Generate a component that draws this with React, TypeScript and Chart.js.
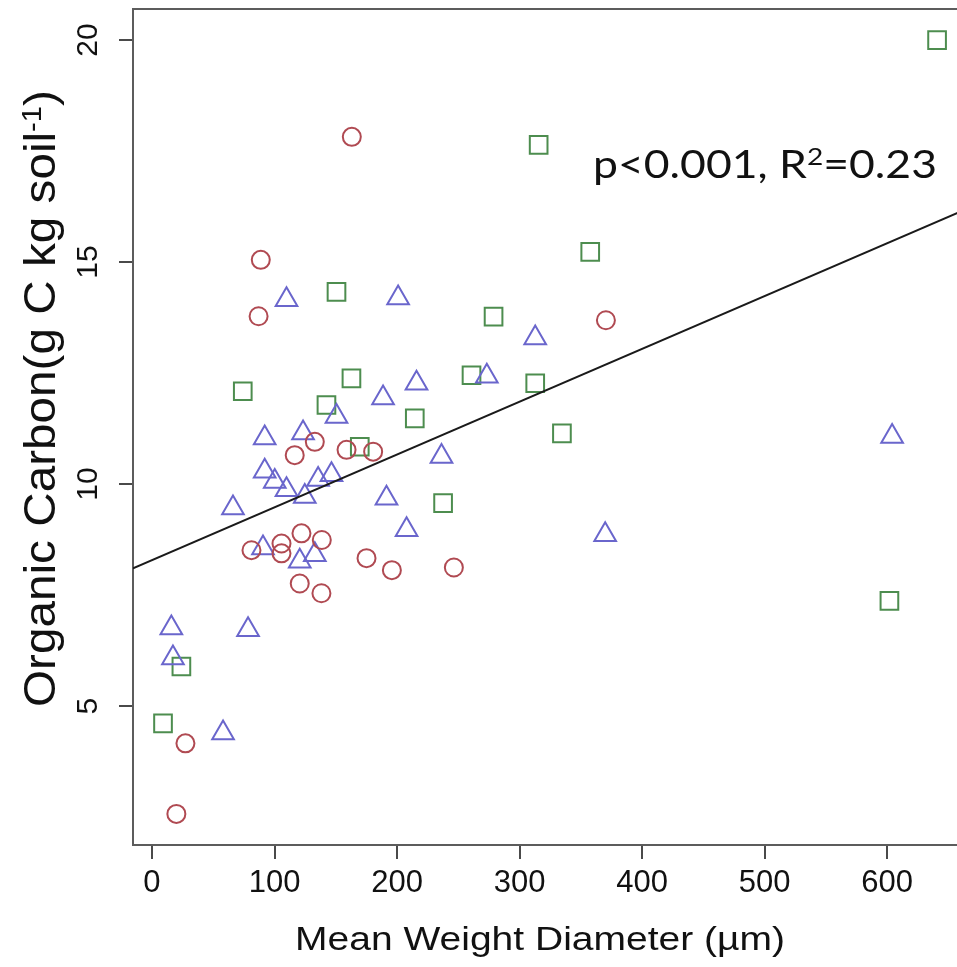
import React, { useEffect, useRef } from "react";
import { Chart, registerables } from "chart.js";

Chart.register(...registerables);

// ---- data ----
const circleX = [163.1, 88.8, 87.0, 370.5, 116.5, 132.9, 158.8, 180.5, 81.2, 105.7, 105.7, 122.0, 138.6, 120.6, 138.3, 175.1, 195.8, 246.4, 27.3, 19.9];
const circleY = [17.82, 15.05, 13.78, 13.69, 10.65, 10.95, 10.77, 10.73, 8.51, 8.66, 8.44, 8.89, 8.74, 7.76, 7.54, 8.33, 8.06, 8.12, 4.16, 2.57];

const triangleX = [109.8, 200.9, 215.9, 188.6, 150.6, 236.3, 92.0, 123.3, 92.0, 100.2, 109.8, 124.7, 135.6, 146.5, 66.1, 191.4, 207.8, 90.6, 120.6, 132.9, 15.8, 78.4, 17.1, 58.0, 312.8, 273.3, 604.1, 369.9];
const triangleY = [14.15, 14.19, 12.27, 11.94, 11.52, 10.62, 11.04, 11.15, 10.29, 10.06, 9.87, 9.72, 10.1, 10.21, 9.46, 9.68, 8.97, 8.56, 8.26, 8.41, 6.76, 6.72, 6.08, 4.39, 13.29, 12.43, 11.07, 8.86];

const squareX = [74.1, 142.4, 162.8, 150.6, 214.5, 169.6, 260.8, 278.8, 315.6, 357.7, 312.8, 334.6, 640.8, 237.6, 24.0, 9.0, 601.9];
const squareY = [12.09, 11.78, 12.38, 14.33, 11.48, 10.84, 12.45, 13.77, 17.64, 15.23, 12.27, 11.14, 20.0, 9.57, 5.89, 4.61, 7.37];

// regression line end points
const fitX = [-15.5, 684];
const fitY = [8.1, 16.42];

const xTicks = [0, 100, 200, 300, 400, 500, 600];
const yTicks = [5, 10, 15, 20];

const xTitle = "Mean Weight Diameter (\u00B5m)";
const yTitleMain = "Organic Carbon(g C kg soil";
const yTitleSup = "-1";
const yTitleTail = ")";
const statMain = "p<0.001, R";
const statSup = "2";
const statTail = "=0.23";

const pts = (xs: number[], ys: number[]) => xs.map((x, i) => ({ x, y: ys[i] }));

const SANS = '"Liberation Sans", Arial, Helvetica, sans-serif';

const decorPlugin = {
  id: "decor",
  beforeDatasetsDraw(chart: any) {
    const { ctx, chartArea: a } = chart;
    ctx.save();
    ctx.strokeStyle = "#5c5c5c";
    ctx.lineWidth = 2;
    ctx.strokeRect(a.left, a.top, a.right - a.left, a.bottom - a.top);
    ctx.restore();
  },
  afterDraw(chart: any) {
    const { ctx } = chart;
    // x axis title
    ctx.save();
    ctx.fillStyle = "#111";
    ctx.font = `33px ${SANS}`;
    ctx.textAlign = "center";
    ctx.textBaseline = "alphabetic";
    const wx = ctx.measureText(xTitle).width;
    ctx.translate(540, 950);
    ctx.scale(490 / wx, 1);
    ctx.fillText(xTitle, 0, 0);
    ctx.restore();

    // y axis title (rotated, with superscript)
    ctx.save();
    ctx.fillStyle = "#111";
    ctx.textBaseline = "alphabetic";
    ctx.textAlign = "left";
    const mainFont = `44px ${SANS}`;
    const supFont = `27px ${SANS}`;
    ctx.font = mainFont;
    const w1 = ctx.measureText(yTitleMain).width;
    const w3 = ctx.measureText(yTitleTail).width;
    ctx.font = supFont;
    const w2 = ctx.measureText(yTitleSup).width;
    const total = w1 + w2 + w3;
    const target = 617;
    ctx.translate(55, 398.5);
    ctx.rotate(-Math.PI / 2);
    ctx.scale(target / total, 1);
    let x0 = -total / 2;
    ctx.font = mainFont;
    ctx.fillText(yTitleMain, x0, 0);
    x0 += w1;
    ctx.font = supFont;
    ctx.fillText(yTitleSup, x0, -14);
    x0 += w2;
    ctx.font = mainFont;
    ctx.fillText(yTitleTail, x0, 0);
    ctx.restore();

    // statistics annotation
    ctx.save();
    ctx.fillStyle = "#111";
    ctx.textBaseline = "alphabetic";
    ctx.textAlign = "left";
    const aFont = `38px Lato, "Open Sans", sans-serif`;
    const sFont = `24px Lato, "Open Sans", sans-serif`;
    ctx.font = aFont;
    const a1 = ctx.measureText(statMain).width;
    const a3 = ctx.measureText(statTail).width;
    ctx.font = sFont;
    const a2 = ctx.measureText(statSup).width;
    const atot = a1 + a2 + a3;
    ctx.translate(593, 178);
    ctx.scale(344 / atot, 1);
    ctx.font = aFont;
    ctx.fillText(statMain, 0, 0);
    ctx.font = sFont;
    ctx.fillText(statSup, a1, -13);
    ctx.font = aFont;
    ctx.fillText(statTail, a1 + a2, 0);
    ctx.restore();
  },
};

export default function App() {
  const ref = useRef<HTMLCanvasElement | null>(null);

  useEffect(() => {
    if (!ref.current) return;
    const gridOpts = {
      drawOnChartArea: false,
      drawTicks: true,
      tickLength: 14,
      color: "#4a4a4a",
      lineWidth: 2,
    };
    const chart = new Chart(ref.current, {
      type: "scatter",
      data: {
        datasets: [
          {
            type: "line",
            data: pts(fitX, fitY),
            borderColor: "#1a1a1a",
            borderWidth: 2,
            pointRadius: 0,
            showLine: true,
            fill: false,
            order: 0,
          } as any,
          {
            data: pts(circleX, circleY),
            pointStyle: "circle",
            pointRadius: 9,
            pointBorderWidth: 2,
            pointBorderColor: "#b04a52",
            pointBackgroundColor: "rgba(0,0,0,0)",
            showLine: false,
          },
          {
            data: pts(triangleX, triangleY),
            pointStyle: "triangle",
            pointRadius: 12.5,
            pointBorderWidth: 2,
            pointBorderColor: "#6a66cc",
            pointBackgroundColor: "rgba(0,0,0,0)",
            showLine: false,
          },
          {
            data: pts(squareX, squareY),
            pointStyle: "rect",
            pointRadius: 12.5,
            pointBorderWidth: 2,
            pointBorderColor: "#4d8d4f",
            pointBackgroundColor: "rgba(0,0,0,0)",
            showLine: false,
          },
        ],
      },
      options: {
        animation: false,
        responsive: false,
        devicePixelRatio: 1,
        layout: { autoPadding: false, padding: { left: 0, right: 0, top: 9, bottom: 0 } },
        plugins: {
          legend: { display: false },
          tooltip: { enabled: false },
          title: { display: false },
        },
        scales: {
          x: {
            type: "linear",
            min: -15.5,
            max: 684,
            afterFit: (s: any) => {
              s.height = 122;
              s.paddingLeft = 0;
              s.paddingRight = 0;
            },
            afterBuildTicks: (s: any) => {
              s.ticks = xTicks.map((v) => ({ value: v }));
            },
            grid: gridOpts,
            border: { display: false },
            ticks: {
              font: { family: SANS, size: 31 },
              color: "#111",
              padding: 6,
              minRotation: 0,
              maxRotation: 0,
            },
          },
          y: {
            type: "linear",
            min: 1.87,
            max: 20.7,
            afterFit: (s: any) => {
              s.width = 133;
              s.paddingTop = 0;
              s.paddingBottom = 0;
            },
            afterBuildTicks: (s: any) => {
              s.ticks = yTicks.map((v) => ({ value: v }));
            },
            grid: gridOpts,
            border: { display: false },
            ticks: {
              font: { family: SANS, size: 30 },
              color: "#111",
              minRotation: 90,
              maxRotation: 90,
              crossAlign: "center",
              padding: 14,
            },
          },
        },
      } as any,
      plugins: [decorPlugin],
    });
    return () => chart.destroy();
  }, []);

  return (
    <div
      style={{
        position: "fixed",
        left: 0,
        top: 0,
        width: 957,
        height: 967,
        overflow: "hidden",
        background: "#fff",
      }}
    >
      <canvas ref={ref} width={990} height={967} style={{ display: "block", width: 990, height: 967 }} />
    </div>
  );
}
